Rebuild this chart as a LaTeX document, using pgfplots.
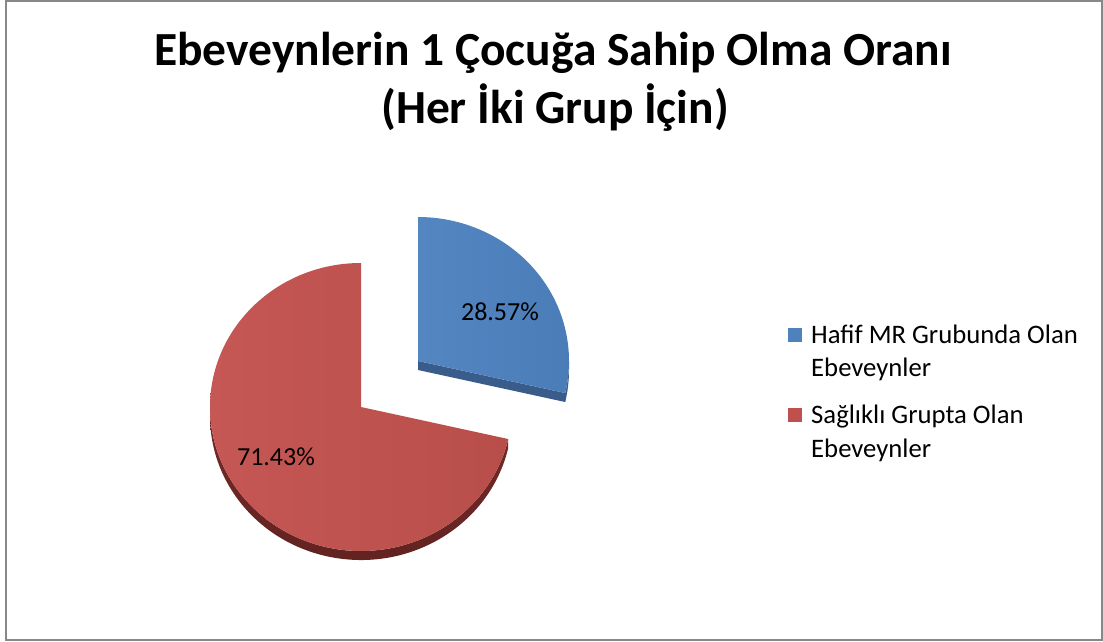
\documentclass[border=0pt]{standalone}
\usepackage{pgfplots}
\pgfplotsset{compat=1.18}
\usepackage{pgfplotstable}
\usepackage{fontspec}
\setmainfont{Carlito}
\definecolor{blueL}{RGB}{84,134,194}
\definecolor{blueR}{RGB}{74,124,184}
\definecolor{blueS}{RGB}{58,92,138}
\definecolor{redL}{RGB}{197,87,84}
\definecolor{redR}{RGB}{184,78,74}
\definecolor{redS}{RGB}{118,43,41}
\definecolor{redS2}{RGB}{96,34,32}
\definecolor{legblue}{RGB}{79,129,189}
\definecolor{legred}{RGB}{192,80,77}
\definecolor{frame}{RGB}{136,136,136}
\pgfplotstableread{
idx value
0 28.57
1 71.43
}\piedata
\begin{document}
\begin{tikzpicture}
\pgfplotstablegetelem{0}{value}\of\piedata
\pgfmathsetmacro{\aend}{90-3.6*\pgfplotsretval}
\pgfmathsetmacro{\aendp}{360+\aend}
\pgfmathsetmacro{\bex}{418+151*cos(\aend)}
\pgfmathsetmacro{\bey}{280+144*sin(\aend)}
\begin{axis}[hide axis, x=1pt, y=1pt, xmin=0, xmax=1103, ymin=0, ymax=641, clip=false]
% page extent
\path (axis cs:0,0) rectangle (axis cs:1103,641);
% frame
\draw[color=frame, line width=2pt] (axis cs:6,1) rectangle (axis cs:1102,640);
% title
\node[anchor=base, font=\fontsize{47.5}{57}\bfseries\selectfont] at (axis cs:553,575) {Ebeveynlerin 1 Çocuğa Sahip Olma Oranı};
\node[anchor=base, font=\fontsize{47.5}{57}\bfseries\selectfont] at (axis cs:555,517) {(Her İki Grup İçin)};
% red slice side
\path[top color=redS, bottom color=redS2] (axis cs:210,234) arc[start angle=180, end angle=\aendp, x radius=151pt, y radius=144pt] -- ++(0pt,-9pt) arc[start angle=\aendp, end angle=180, x radius=151pt, y radius=144pt] -- cycle;
% red slice top
\path[left color=redL, right color=redR] (axis cs:361,234) -- (axis cs:361,378) arc[start angle=90, end angle=\aendp, x radius=151pt, y radius=144pt] -- cycle;
% blue slice sides
\fill[blueS] (axis cs:418,280) -- (axis cs:\bex,\bey) -- ++(0pt,-9pt) -- (axis cs:418,271) -- cycle;
\fill[blueS] (axis cs:\bex,\bey) arc[start angle=\aend, end angle=0, x radius=151pt, y radius=144pt] -- ++(0pt,-9pt) arc[start angle=0, end angle=\aend, x radius=151pt, y radius=144pt] -- cycle;
% blue slice top
\path[left color=blueL, right color=blueR] (axis cs:418,280) -- (axis cs:418,424) arc[start angle=90, end angle=\aend, x radius=151pt, y radius=144pt] -- cycle;
% labels
\node[anchor=base, font=\fontsize{26}{32}\selectfont] at (axis cs:500,321) {28.57\%};
\node[anchor=base, font=\fontsize{26}{32}\selectfont] at (axis cs:276,176) {71.43\%};
% legend
\fill[legblue] (axis cs:788,299) rectangle (axis cs:802,313);
\fill[legred] (axis cs:788,219) rectangle (axis cs:802,233);
\node[anchor=base west, inner sep=0pt, font=\fontsize{26.7}{32}\selectfont] at (axis cs:811,298) {Hafif MR Grubunda Olan};
\node[anchor=base west, inner sep=0pt, font=\fontsize{26.7}{32}\selectfont] at (axis cs:811,265) {Ebeveynler};
\node[anchor=base west, inner sep=0pt, font=\fontsize{26.7}{32}\selectfont] at (axis cs:811,218) {Sağlıklı Grupta Olan};
\node[anchor=base west, inner sep=0pt, font=\fontsize{26.7}{32}\selectfont] at (axis cs:811,184) {Ebeveynler};
\end{axis}
\end{tikzpicture}
\end{document}
